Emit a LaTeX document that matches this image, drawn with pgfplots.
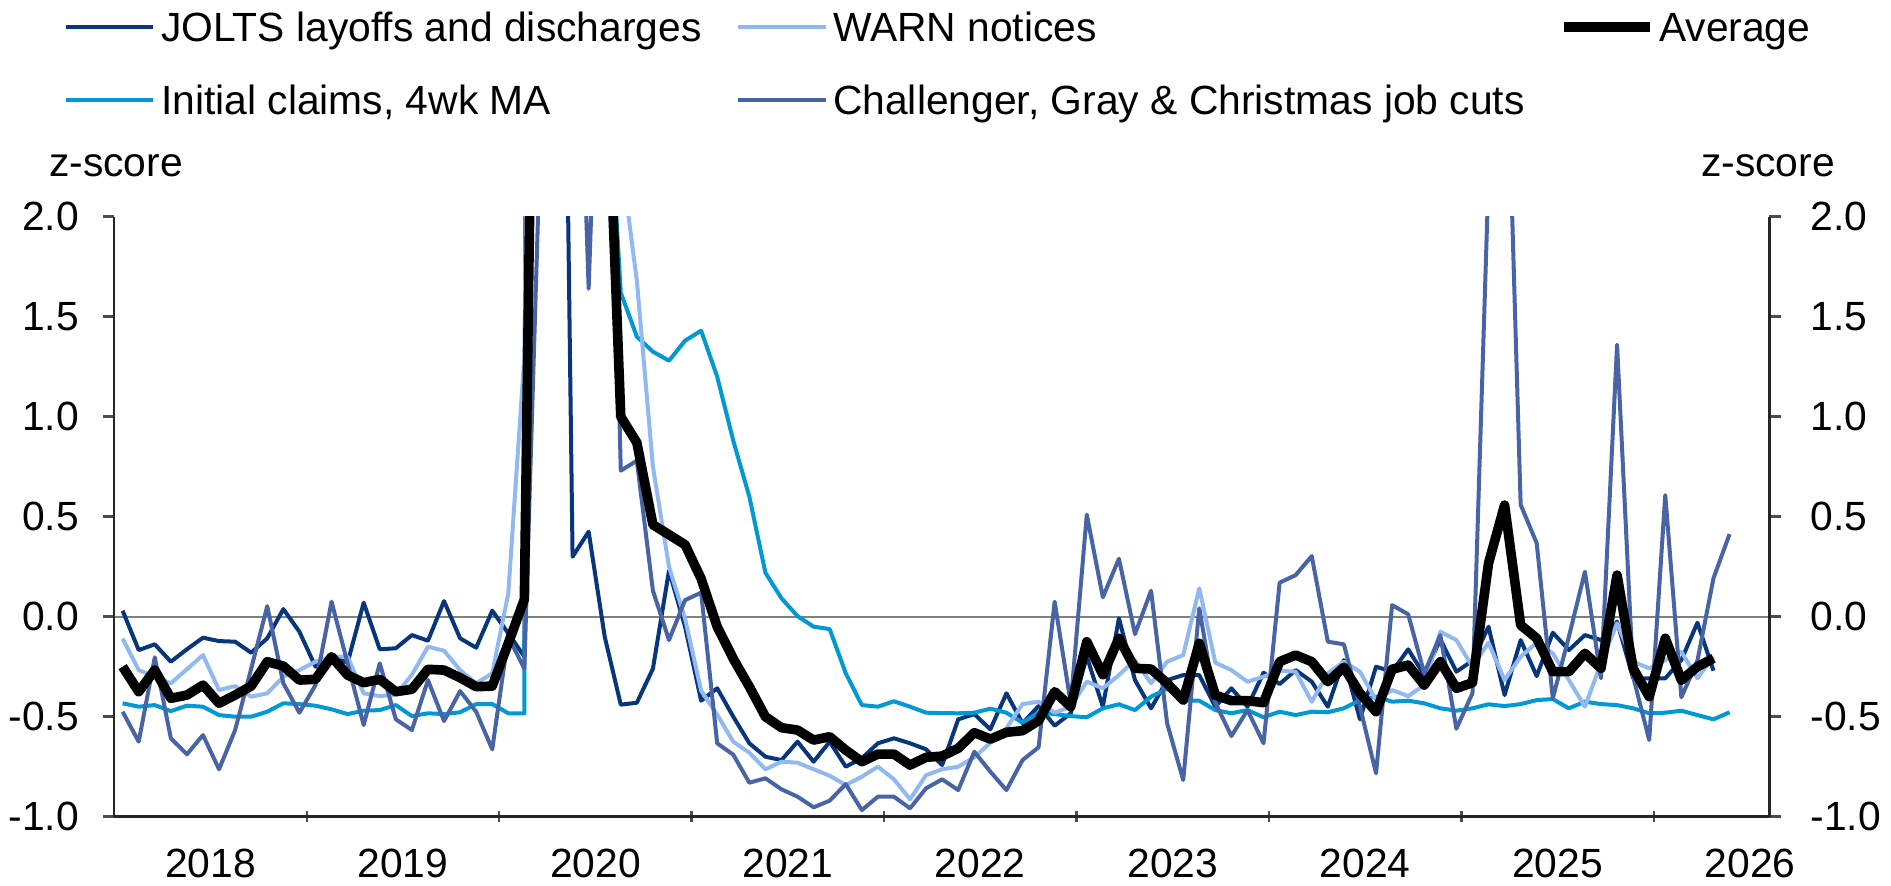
\documentclass[border=0pt]{standalone}
\usepackage{pgfplots}
\pgfplotsset{compat=1.18}
\usepackage{pgfplotstable}
\usepackage{fontspec}
\setmainfont{Liberation Sans}

\definecolor{jolts}{RGB}{8,54,122}
\definecolor{warn}{RGB}{145,185,240}
\definecolor{claims}{RGB}{0,153,212}
\definecolor{cgc}{RGB}{72,100,165}

% monthly z-scores, m = months since Jan 2018
\pgfplotstableread{
m jolts warn claims cgc avg
0 0.03 -0.11 -0.433 -0.475 -0.25
1 -0.167 -0.267 -0.45 -0.625 -0.375
2 -0.138 -0.30 -0.442 -0.203 -0.267
3 -0.225 -0.333 -0.472 -0.608 -0.408
4 -0.163 -0.263 -0.445 -0.688 -0.392
5 -0.105 -0.192 -0.45 -0.592 -0.342
6 -0.122 -0.367 -0.492 -0.763 -0.433
7 -0.125 -0.347 -0.50 -0.567 -0.392
8 -0.18 -0.40 -0.50 -0.26 -0.347
9 -0.108 -0.383 -0.475 0.053 -0.225
10 0.038 -0.30 -0.433 -0.333 -0.247
11 -0.075 -0.267 -0.437 -0.48 -0.317
12 -0.25 -0.225 -0.445 -0.342 -0.313
13 -0.20 -0.20 -0.463 0.075 -0.20
14 -0.23 -0.20 -0.487 -0.233 -0.292
15 0.07 -0.383 -0.47 -0.542 -0.33
16 -0.163 -0.397 -0.467 -0.233 -0.313
17 -0.158 -0.39 -0.442 -0.513 -0.375
18 -0.092 -0.29 -0.497 -0.567 -0.363
19 -0.12 -0.15 -0.483 -0.317 -0.263
20 0.078 -0.17 -0.487 -0.522 -0.267
21 -0.108 -0.267 -0.478 -0.372 -0.305
22 -0.155 -0.333 -0.437 -0.475 -0.35
23 0.03 -0.283 -0.437 -0.663 -0.347
24 -0.083 0.117 -0.483 -0.10 -0.133
25 -0.20 1.30 -0.483 -0.26 0.087
26 10 8 50 2.4 6.0
27 6.5 12 50 8 8
28 0.30 6 40 4.1 5
29 0.425 4 20 1.64 4
30 -0.10 3 3.0 4.0 3.1
31 -0.44 2.3 1.62 0.73 1.0
32 -0.43 1.68 1.40 0.78 0.87
33 -0.26 0.75 1.325 0.13 0.46
34 0.23 0.25 1.28 -0.117 0.41
35 -0.05 -0.01 1.38 0.083 0.36
36 -0.42 -0.37 1.43 0.12 0.19
37 -0.358 -0.49 1.2 -0.633 -0.05
38 -0.5 -0.625 0.88 -0.69 -0.21
39 -0.633 -0.68 0.6 -0.83 -0.35
40 -0.70 -0.763 0.22 -0.808 -0.5
41 -0.717 -0.725 0.092 -0.863 -0.555
42 -0.625 -0.73 0.003 -0.90 -0.567
43 -0.725 -0.763 -0.05 -0.953 -0.617
44 -0.625 -0.795 -0.062 -0.92 -0.60
45 -0.75 -0.842 -0.283 -0.837 -0.667
46 -0.708 -0.80 -0.442 -0.967 -0.725
47 -0.633 -0.75 -0.45 -0.90 -0.687
48 -0.608 -0.813 -0.423 -0.90 -0.687
49 -0.633 -0.913 -0.45 -0.958 -0.742
50 -0.663 -0.792 -0.48 -0.858 -0.703
51 -0.742 -0.763 -0.482 -0.813 -0.697
52 -0.513 -0.75 -0.483 -0.867 -0.658
53 -0.487 -0.703 -0.48 -0.675 -0.58
54 -0.563 -0.63 -0.46 -0.775 -0.612
55 -0.383 -0.558 -0.48 -0.867 -0.578
56 -0.533 -0.437 -0.53 -0.717 -0.57
57 -0.447 -0.425 -0.478 -0.653 -0.52
58 -0.545 -0.48 -0.487 0.075 -0.375
59 -0.483 -0.45 -0.497 -0.433 -0.45
60 -0.2 -0.325 -0.503 0.51 -0.125
61 -0.45 -0.358 -0.458 0.097 -0.29
62 -0.008 -0.292 -0.438 0.29 -0.108
63 -0.317 -0.217 -0.467 -0.087 -0.258
64 -0.458 -0.333 -0.40 0.13 -0.262
65 -0.317 -0.225 -0.36 -0.533 -0.333
66 -0.292 -0.192 -0.42 -0.817 -0.417
67 -0.292 0.142 -0.42 0.042 -0.133
68 -0.45 -0.23 -0.467 -0.43 -0.392
69 -0.358 -0.267 -0.483 -0.597 -0.42
70 -0.45 -0.325 -0.467 -0.467 -0.42
71 -0.28 -0.30 -0.503 -0.633 -0.43
72 -0.337 -0.27 -0.475 0.17 -0.225
73 -0.267 -0.275 -0.492 0.208 -0.192
74 -0.325 -0.425 -0.475 0.303 -0.225
75 -0.45 -0.283 -0.478 -0.125 -0.325
76 -0.217 -0.225 -0.458 -0.138 -0.253
77 -0.513 -0.275 -0.417 -0.45 -0.383
78 -0.25 -0.417 -0.40 -0.783 -0.475
79 -0.275 -0.367 -0.425 0.058 -0.263
80 -0.163 -0.397 -0.42 0.012 -0.242
81 -0.292 -0.342 -0.433 -0.283 -0.342
82 -0.113 -0.075 -0.458 -0.092 -0.225
83 -0.275 -0.117 -0.47 -0.56 -0.358
84 -0.22 -0.25 -0.458 -0.383 -0.33
85 -0.05 -0.13 -0.438 2.2 0.267
86 -0.392 -0.317 -0.447 3.3 0.558
87 -0.117 -0.2 -0.437 0.56 -0.042
88 -0.297 -0.13 -0.417 0.367 -0.108
89 -0.08 -0.183 -0.412 -0.408 -0.275
90 -0.167 -0.317 -0.458 -0.1 -0.275
91 -0.092 -0.45 -0.425 0.225 -0.183
92 -0.117 -0.233 -0.437 -0.308 -0.258
93 -0.025 -0.033 -0.442 1.36 0.208
94 -0.308 -0.225 -0.458 -0.3 -0.258
95 -0.308 -0.258 -0.483 -0.617 -0.40
96 -0.308 -0.217 -0.48 0.608 -0.108
97 -0.217 -0.175 -0.47 -0.403 -0.317
98 -0.03 -0.308 -0.492 -0.22 -0.25
99 -0.27 -0.2 -0.513 0.192 -0.208
100 nan nan -0.478 0.413 nan
}\layoffs

\pgfplotsset{
  frame/.style={
    scale only axis, width=413.75pt, height=150pt,
    xmin=0, xmax=103.2, ymin=-1, ymax=2,
    axis line style={-, black!85, line width=0.6pt},
    tick style={black!70, line width=0.6pt},
    tick label style={font=\fontsize{10.2}{12}\selectfont},
    /pgf/number format/assume math mode=true,
  },
  yframe/.style={
    frame, axis x line=none, tick align=outside, major tick length=2.8pt,
    ytick={-1,-0.5,0,0.5,1,1.5,2},
    yticklabel style={/pgf/number format/fixed, /pgf/number format/fixed zerofill,
      /pgf/number format/precision=1},
  },
  series/.style={line width=1pt, line join=round},
}

\begin{document}
\begin{tikzpicture}
\begin{axis}[frame,
  axis x line*=bottom, axis y line*=left, ytick=\empty,
  xtick={12,24,36,48,60,72,84,96}, xticklabels={},
  tick align=center, major tick length=2.8pt,
  extra x ticks={6,18,30,42,54,66,78,90,102},
  extra x tick labels={2018,2019,2020,2021,2022,2023,2024,2025,2026},
  extra x tick style={major tick length=0pt},
  xticklabel style={yshift=-4.5pt},
]
\draw[black!50, line width=0.5pt] (axis cs:0,0) -- (axis cs:103.2,0);
\addplot[series, jolts] table[x expr=\thisrow{m}*1.002+0.52, y=jolts] {\layoffs};
\addplot[series, claims] table[x expr=\thisrow{m}*1.002+0.52, y=claims] {\layoffs};
\addplot[series, warn] table[x expr=\thisrow{m}*1.002+0.52, y=warn] {\layoffs};
\addplot[series, cgc] table[x expr=\thisrow{m}*1.002+0.52, y=cgc] {\layoffs};
\addplot[black, line width=2.4pt, line join=round] table[x expr=\thisrow{m}*1.002+0.52, y=avg] {\layoffs};
\end{axis}

\begin{axis}[yframe, axis y line*=left, yticklabel style={xshift=-2.5pt}]
\end{axis}
\begin{axis}[yframe, axis y line*=right, yticklabel style={xshift=4pt}]
\end{axis}

% z-score labels
\node[anchor=base west, inner sep=0pt, font=\fontsize{10.2}{12}\selectfont] at (-16.5pt,160pt) {z-score};
\node[anchor=base west, inner sep=0pt, font=\fontsize{10.2}{12}\selectfont] at (396.5pt,160pt) {z-score};

% legend
\begin{scope}[every node/.style={anchor=base west, inner sep=0pt, font=\fontsize{10.2}{12}\selectfont}]
\draw[jolts, line width=1.1pt] (-12pt,197.35pt) -- (9.7pt,197.35pt);
\node at (11.5pt,193.75pt) {JOLTS layoffs and discharges};
\draw[warn, line width=1.1pt] (155.95pt,197.35pt) -- (177.95pt,197.35pt);
\node at (179.5pt,193.75pt) {WARN notices};
\draw[black, line width=2.4pt] (362.5pt,197.35pt) -- (383.9pt,197.35pt);
\node at (386pt,193.75pt) {Average};
\draw[claims, line width=1.1pt] (-12pt,179.2pt) -- (9.7pt,179.2pt);
\node at (11.5pt,175.6pt) {Initial claims, 4wk MA};
\draw[cgc, line width=1.1pt] (155.95pt,179.2pt) -- (177.95pt,179.2pt);
\node at (179.5pt,175.6pt) {Challenger, Gray \& Christmas job cuts};
\end{scope}

\pgfresetboundingbox
\path (-28.575pt,-17.325pt) rectangle (444.175pt,204.175pt);
\end{tikzpicture}
\end{document}
